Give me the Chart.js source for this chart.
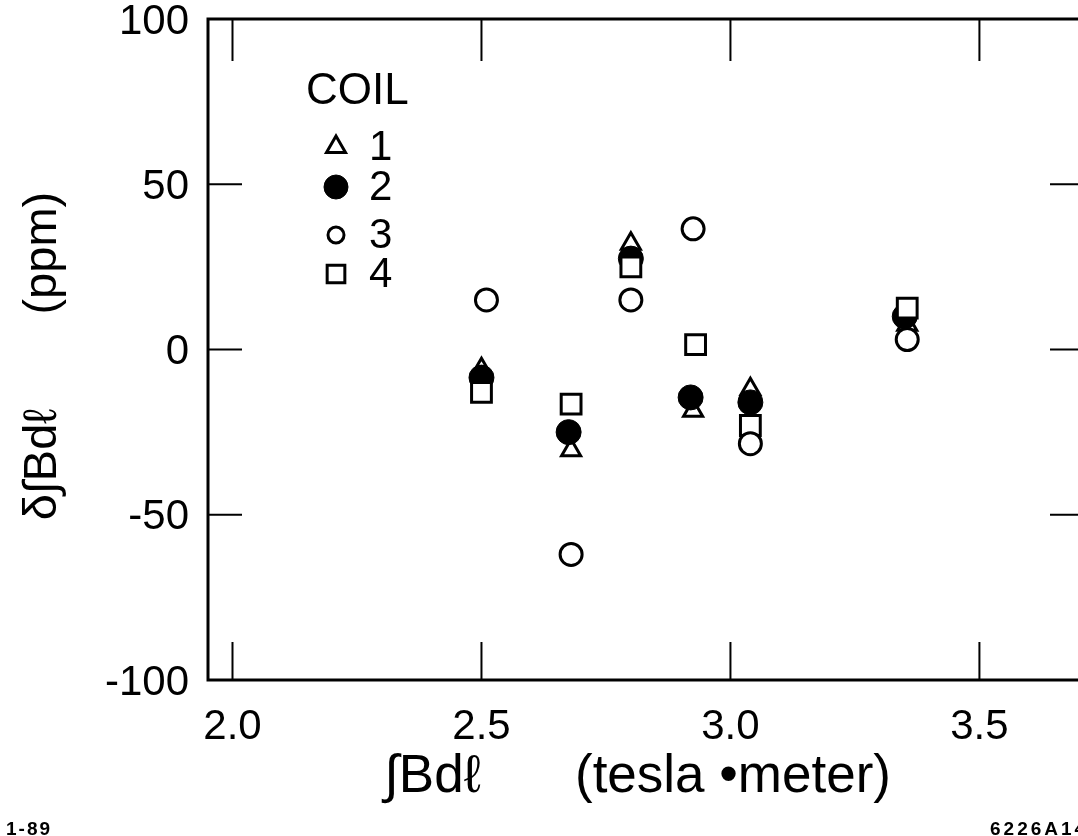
<!DOCTYPE html>
<html><head><meta charset="utf-8">
<script src="https://cdn.jsdelivr.net/npm/chart.js@4.4.1/dist/chart.umd.min.js"></script>
<style>
html,body{margin:0;padding:0;background:#fff;overflow:hidden;width:1078px;height:836px;}
#wrap{position:absolute;left:0;top:0;width:1099px;height:836px;}
.note{position:absolute;font-family:"Liberation Sans",Arial,sans-serif;font-weight:bold;font-size:19px;letter-spacing:3px;color:#000;line-height:19px;white-space:nowrap;}
</style></head><body>
<div id="wrap"><canvas id="c" width="1099" height="836"></canvas></div>
<div class="note" style="left:6px;top:819px;letter-spacing:2px">1-89</div>
<div class="note" style="left:990px;top:819px">6226A14</div>
<script>
// ---- data ----
const xTicks = [2.0, 2.5, 3.0, 3.5];
const yTicks = [-100, -50, 0, 50, 100];
const legendTitle = 'COIL';
const coilNames = ['1', '2', '3', '4'];
const coil1X = [2.50, 2.68, 2.80, 2.925, 3.04, 3.355];
const coil1Y = [-6, -30.5, 32, -18.5, -12, 7.5];
const coil2X = [2.50, 2.675, 2.80, 2.92, 3.04, 3.35];
const coil2Y = [-8.5, -25, 27.5, -14.5, -16, 10];
const coil3X = [2.51, 2.68, 2.80, 2.925, 3.04, 3.355];
const coil3Y = [15, -62, 15, 36.5, -28.5, 3];
const coil4X = [2.50, 2.68, 2.80, 2.93, 3.04, 3.355];
const coil4Y = [-13, -16.5, 25, 1.5, -23, 12.5];
const xTitle = '\u222BBd\u2113\u2003\u2002 (tesla \u2022meter) ';
const yTitle = '\u03B4\u222BBd\u2113\u2003\u2003(ppm) ';

const pts = (xs, ys) => xs.map((x, i) => ({x: x, y: ys[i]}));
const FONT = '"Liberation Sans", Arial, Helvetica, sans-serif';

const styles = [
  {pointStyle: 'triangle', radius: 11, bg: '#fff', bw: 3, order: 3},
  {pointStyle: 'circle', radius: 12.5, bg: '#000', bw: 1, order: 2},
  {pointStyle: 'circle', radius: 11, bg: '#fff', bw: 3, order: 0},
  {pointStyle: 'rect', radius: 14, bg: '#fff', bw: 3, order: 1}
];
const series = [[coil1X, coil1Y], [coil2X, coil2Y], [coil3X, coil3Y], [coil4X, coil4Y]];

const datasets = series.map((s, i) => ({
  label: coilNames[i],
  data: pts(s[0], s[1]),
  pointStyle: styles[i].pointStyle,
  pointRadius: styles[i].radius,
  pointBackgroundColor: styles[i].bg,
  pointBorderColor: '#000',
  pointBorderWidth: styles[i].bw,
  showLine: false,
  order: styles[i].order
}));

function drawMarker(ctx, style, r, x, y, fill, bw) {
  ctx.save();
  ctx.beginPath();
  if (style === 'circle') {
    ctx.arc(x, y, r, 0, Math.PI * 2);
  } else if (style === 'rect') {
    const s = r * Math.SQRT1_2;
    ctx.rect(x - s, y - s, 2 * s, 2 * s);
  } else if (style === 'triangle') {
    ctx.moveTo(x, y - r);
    ctx.lineTo(x + r * Math.sin(2 * Math.PI / 3), y - r * Math.cos(2 * Math.PI / 3));
    ctx.lineTo(x + r * Math.sin(4 * Math.PI / 3), y - r * Math.cos(4 * Math.PI / 3));
    ctx.closePath();
  }
  ctx.fillStyle = fill;
  ctx.fill();
  ctx.lineWidth = bw;
  ctx.strokeStyle = '#000';
  ctx.stroke();
  ctx.restore();
}

const framePlugin = {
  id: 'frame',
  beforeDatasetsDraw(chart) {
    const {ctx, chartArea: a, scales: {x, y}} = chart;
    ctx.save();
    ctx.strokeStyle = '#000';
    ctx.lineWidth = 3;
    ctx.strokeRect(a.left, a.top, a.right - a.left, a.bottom - a.top);
    ctx.lineWidth = 2;
    ctx.beginPath();
    xTicks.forEach(v => {
      const px = x.getPixelForValue(v);
      ctx.moveTo(px, a.top); ctx.lineTo(px, a.top + 42);
      ctx.moveTo(px, a.bottom); ctx.lineTo(px, a.bottom - 38);
    });
    yTicks.forEach(v => {
      if (v === y.min || v === y.max) return;
      const py = y.getPixelForValue(v);
      ctx.moveTo(a.left, py); ctx.lineTo(a.left + 34, py);
      ctx.moveTo(a.right, py); ctx.lineTo(a.right - 32, py);
    });
    ctx.stroke();
    ctx.restore();
  },
  afterDraw(chart) {
    const ctx = chart.ctx;
    ctx.save();
    ctx.fillStyle = '#000';
    ctx.textBaseline = 'middle';
    ctx.textAlign = 'left';
    ctx.font = '44px ' + FONT;
    ctx.fillText(legendTitle, 306, 92);
    const rowsY = [147, 187, 235, 274];
    const legR = [11, 12, 8, 12.5];
    ctx.font = '42px ' + FONT;
    coilNames.forEach((n, i) => {
      drawMarker(ctx, styles[i].pointStyle, legR[i], 336, rowsY[i], styles[i].bg, styles[i].bw === 1 ? 1 : 3);
      ctx.fillStyle = '#000';
      ctx.fillText(n, 369, rowsY[i] + 1);
    });
    ctx.restore();
  }
};

new Chart(document.getElementById('c'), {
  type: 'scatter',
  data: {datasets: datasets},
  plugins: [framePlugin],
  options: {
    responsive: false,
    animation: false,
    devicePixelRatio: 1,
    events: [],
    layout: {padding: {top: 19, right: 0, left: 0, bottom: 0}},
    plugins: {legend: {display: false}, tooltip: {enabled: false}},
    scales: {
      x: {
        type: 'linear',
        position: 'bottom',
        min: 1.9508,
        max: 3.706,
        afterBuildTicks: s => { s.ticks = xTicks.map(v => ({value: v})); },
        afterFit: s => { s.height = 156; s.paddingLeft = 0; s.paddingRight = 0; },
        grid: {display: false, drawTicks: false},
        border: {display: false},
        ticks: {
          color: '#000',
          font: {size: 42, family: FONT},
          padding: 22,
          maxRotation: 0,
          callback: v => Number(v).toFixed(1)
        },
        title: {
          display: true,
          text: xTitle,
          color: '#000',
          font: {size: 53, family: FONT},
          padding: {top: 0, bottom: 27}
        }
      },
      y: {
        type: 'linear',
        min: -100,
        max: 100,
        afterBuildTicks: s => { s.ticks = yTicks.map(v => ({value: v})); },
        afterFit: s => { s.width = 208; s.paddingTop = 0; s.paddingBottom = 0; },
        grid: {display: false, drawTicks: false},
        border: {display: false},
        ticks: {
          color: '#000',
          font: {size: 42, family: FONT},
          padding: 19,
          labelOffset: 3,
          callback: v => String(v)
        },
        title: {
          display: true,
          text: yTitle,
          color: '#000',
          font: {size: 47, family: FONT},
          padding: {top: 15, bottom: 0}
        }
      }
    }
  }
});
</script>
</body></html>
